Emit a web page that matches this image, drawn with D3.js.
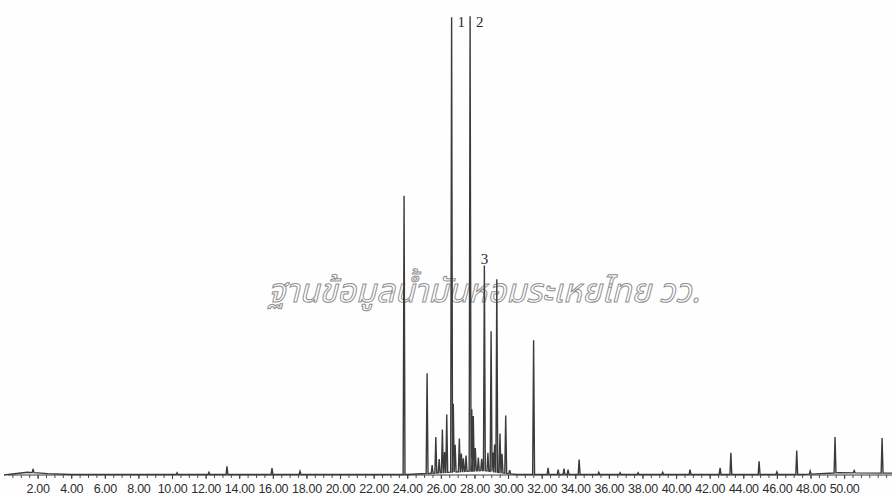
<!DOCTYPE html>
<html>
<head>
<meta charset="utf-8">
<script src="https://cdn.jsdelivr.net/npm/d3@7"></script>
<style>
  html, body { margin: 0; padding: 0; background: #fefefe; }
  svg { display: block; }
</style>
</head>
<body>
<svg id="chart" width="892" height="496"></svg>
<script>
// Retention times (min) and relative abundances (% of the largest peak)
const peakTimes = [
  1.73, 10.30, 12.20, 13.27, 15.95, 17.62,
  23.81, 25.18, 25.48, 25.70, 25.90, 26.09, 26.22, 26.35, 26.64, 26.74, 26.85,
  27.10, 27.22, 27.34, 27.50, 27.74, 27.84, 27.93, 28.05, 28.23, 28.43, 28.59,
  28.80, 28.99, 29.10, 29.20, 29.33, 29.52, 29.64, 29.86, 30.10,
  31.52, 32.38, 32.98, 33.33, 33.57, 34.23, 35.40, 36.67, 37.74, 39.20,
  40.83, 42.62, 43.26, 44.94, 46.00, 47.18, 47.98, 49.46, 50.60, 52.26
];
const peakHeights = [
  0.8, 0.4, 0.5, 1.8, 1.4, 0.7,
  61.3, 22.0, 1.8, 7.9, 3.0, 9.5, 4.5, 12.7, 100, 15.0, 6.0,
  7.3, 4.0, 2.9, 3.5, 100, 13.6, 12.1, 5.0, 2.9, 2.6, 45.1,
  4.0, 30.8, 4.2, 6.0, 42.4, 8.6, 4.2, 12.7, 0.8,
  29.5, 1.5, 1.1, 1.3, 1.1, 3.3, 0.5, 0.4, 0.4, 0.5,
  1.1, 1.5, 4.8, 2.9, 0.6, 5.3, 0.7, 7.9, 0.5, 7.7
];
// Numbered components marked beside their peaks
const labelTimes = [26.64, 27.74, 28.59];
const labelTexts = ["1", "2", "3"];
const labelLevels = [100, 100, 45.1];

// Slow baseline drift of the detector signal (min, %)
const driftTimes = [0, 1.4, 2.6, 4.0, 24.0, 28.5, 30.5, 47.5, 49.7, 52.9];
const driftLevels = [0, 0.6, 0.3, 0.1, 0.1, 1.0, 0.1, 0.1, 0.5, 0.4];

// Axis tick labels (min)
const tickValues = [2, 4, 6, 8, 10, 12, 14, 16, 18, 20, 22, 24, 26,
                    28, 30, 32, 34, 36, 38, 40, 42, 44, 46, 48, 50];

const watermark = "ฐานข้อมูลน้ำมันหอมระเหยไทย วว.";

const svg = d3.select("#chart");

const x = d3.scaleLinear().domain([0, 52.85]).range([4, 892]);
const y = d3.scaleLinear().domain([0, 100]).range([475, 20]);

const ink = "#3b3b3b";

// Watermark behind the trace
svg.append("text")
  .attr("x", 268)
  .attr("y", 302)
  .attr("font-family", "'Noto Sans Thai', 'Noto Serif Thai', 'Loma', 'Garuda', 'Norasi', sans-serif")
  .attr("font-style", "italic")
  .attr("font-size", 33)
  .attr("textLength", 432)
  .attr("lengthAdjust", "spacingAndGlyphs")
  .attr("fill", "#ffffff")
  .attr("stroke", "#909090")
  .attr("stroke-width", 1)
  .text(watermark);

// Drift level at a retention time
const drift = d3.scaleLinear().domain(driftTimes).range(driftLevels).clamp(true);

// Trace: drifting baseline with a narrow triangular peak at each retention time
const halfWidth = 0.055;
const order = d3.range(peakTimes.length).sort((a, b) => peakTimes[a] - peakTimes[b]);
const trace = [];
let cursor = x.domain()[0];
trace.push([cursor, drift(cursor)]);
order.forEach(i => {
  const t = peakTimes[i];
  driftTimes.filter(d => d > cursor && d < t - halfWidth).forEach(d => trace.push([d, drift(d)]));
  trace.push([t - halfWidth, drift(t - halfWidth)]);
  trace.push([t, drift(t) + peakHeights[i]]);
  trace.push([t + halfWidth, drift(t + halfWidth)]);
  cursor = t + halfWidth;
});
driftTimes.filter(d => d > cursor).forEach(d => trace.push([d, drift(d)]));

const line = d3.line().x(d => x(d[0])).y(d => y(d[1]));

// Time axis along the baseline: fine ticks every half minute
const axis = d3.axisBottom(x)
  .tickValues(d3.range(0.5, 52.6, 0.5))
  .tickSize(3)
  .tickFormat("");
const gAxis = svg.append("g").attr("transform", `translate(0,${y(0)})`).call(axis);
gAxis.select(".domain").attr("stroke", ink).attr("stroke-width", 1.1)
  .attr("d", "M8,0H892");
gAxis.selectAll(".tick line").attr("stroke", ink).attr("stroke-width", 0.9);

// Labelled ticks every two minutes
const labelAxis = d3.axisBottom(x)
  .tickValues(tickValues)
  .tickSize(4)
  .tickPadding(5)
  .tickFormat(d3.format(".2f"));
const gLab = svg.append("g").attr("transform", `translate(0,${y(0)})`).call(labelAxis);
gLab.select(".domain").remove();
gLab.selectAll(".tick line").attr("stroke", ink).attr("stroke-width", 1);
gLab.selectAll(".tick text")
  .attr("font-family", "'Liberation Sans', Arial, sans-serif")
  .attr("font-size", 12.5)
  .attr("letter-spacing", -0.3)
  .attr("fill", "#2e2e2e");

svg.append("path")
  .datum(trace)
  .attr("d", line)
  .attr("fill", "none")
  .attr("stroke", ink)
  .attr("stroke-width", 1.4)
  .attr("stroke-linejoin", "miter");

// Component numbers beside the apexes
svg.append("g").selectAll("text")
  .data(labelTimes)
  .join("text")
  .attr("x", (d, i) => x(d) + (i === 2 ? 0 : 6))
  .attr("y", (d, i) => y(labelLevels[i]) + (i === 2 ? -6 : 7))
  .attr("text-anchor", (d, i) => i === 2 ? "middle" : "start")
  .attr("font-family", "'Liberation Serif', 'Times New Roman', serif")
  .attr("font-size", 15)
  .attr("fill", "#2a2a2a")
  .text((d, i) => labelTexts[i]);
</script>
</body>
</html>
